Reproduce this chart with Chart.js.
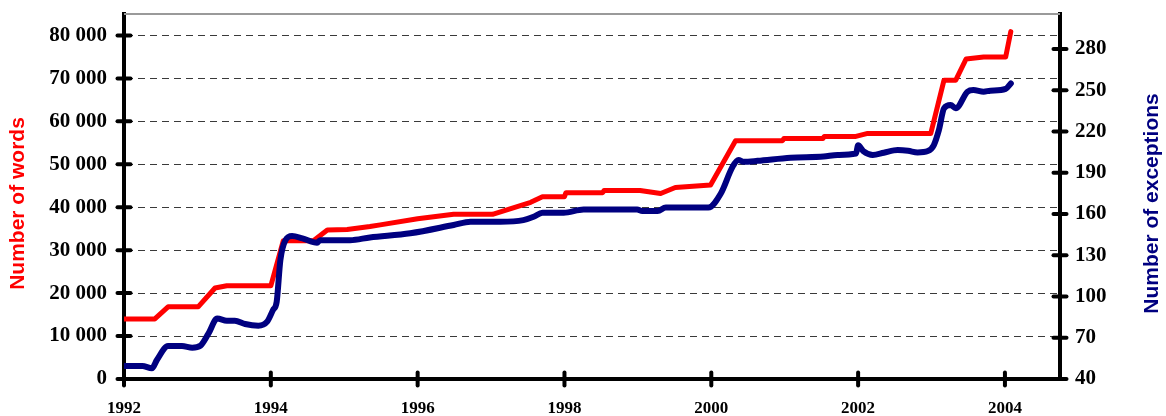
<!DOCTYPE html>
<html>
<head>
<meta charset="utf-8">
<script src="https://cdn.jsdelivr.net/npm/chart.js@4.4.1/dist/chart.umd.min.js"></script>
<style>
  html, body { margin: 0; padding: 0; background: #fff; }
  #wrap { width: 1166px; height: 416px; }
</style>
</head>
<body>
<div id="wrap"><canvas id="c" width="1166" height="416"></canvas></div>
<script>
// ---- Data ----
const yearTicks = [1992, 1994, 1996, 1998, 2000, 2002, 2004];
const wordTicks = [0, 10000, 20000, 30000, 40000, 50000, 60000, 70000, 80000];
const exceptionTicks = [40, 70, 100, 130, 160, 190, 220, 250, 280];

const wordYears = [1992.0, 1992.42, 1992.6, 1993.01, 1993.24, 1993.4, 1994.0, 1994.17, 1994.58, 1994.77,
  1995.04, 1995.35, 1995.49, 1996.0, 1996.49, 1997.02, 1997.54, 1997.70, 1998.0, 1998.02,
  1998.52, 1998.54, 1999.03, 1999.31, 1999.51, 1999.99, 2000.33, 2000.97, 2000.99, 2001.52,
  2001.54, 2001.97, 2002.13, 2002.99, 2003.17, 2003.33, 2003.47, 2003.71, 2004.01, 2004.08];
const wordValues = [14000, 14000, 16800, 16800, 21200, 21700, 21700, 32200, 32200, 34700,
  34800, 35500, 35900, 37300, 38350, 38350, 41150, 42450, 42450, 43400,
  43400, 43900, 43900, 43200, 44600, 45200, 55500, 55500, 56000, 56000,
  56500, 56500, 57200, 57200, 69600, 69600, 74500, 75000, 75000, 80900];

const exceptionYears = [1992.0, 1992.25, 1992.38, 1992.45, 1992.6, 1992.79, 1992.93, 1993.04, 1993.15, 1993.27,
  1993.40, 1993.51, 1993.65, 1993.83, 1993.95, 1994.03, 1994.08, 1994.13, 1994.2, 1994.29,
  1994.43, 1994.63, 1994.67, 1995.08, 1995.35, 1995.9, 1996.49, 1996.72, 1997.13, 1997.44,
  1997.58, 1997.7, 1997.99, 1998.26, 1998.99, 1999.06, 1999.27, 1999.38, 1999.96, 2000.13,
  2000.29, 2000.37, 2000.44, 2000.63, 2001.08, 2001.53, 2001.72, 2001.97, 2002.0, 2002.07,
  2002.2, 2002.35, 2002.54, 2002.68, 2002.81, 2002.95, 2003.03, 2003.1, 2003.17, 2003.26,
  2003.33, 2003.49, 2003.57, 2003.71, 2003.8, 2004.01, 2004.08];
const exceptionValues = [49.5, 49.5, 47.8, 54, 64, 64, 62.8, 64.2, 73, 84,
  82.4, 82.4, 80, 78.8, 81.7, 90.2, 96.2, 126.5, 141, 144,
  142.3, 139.1, 141, 141, 143, 146, 152, 154.4, 154.4, 155.6,
  158, 161, 161, 163.3, 163.3, 162.2, 162.2, 164.8, 164.8, 175,
  194.4, 199.3, 198, 198.7, 201, 201.8, 203, 204, 210, 205.8,
  203, 204.6, 206.5, 206, 204.8, 205.8, 210, 221, 236.9, 239.3,
  236.9, 249, 250.2, 249, 249.7, 251, 255];

const wordTitle = 'Number of words';
const exceptionTitle = 'Number of exceptions';

// ---- helpers ----
const pairs = (xs, ys) => xs.map((x, i) => ({ x: x, y: ys[i] }));
const spaced = v => String(v).replace(/\B(?=(\d{3})+(?!\d))/g, ' ');
const serifBold = size => ({ family: '"Liberation Serif", "Times New Roman", serif', size: size, weight: 'bold' });

const decor = {
  id: 'decor',
  afterDraw(chart) {
    const ctx = chart.ctx;
    const a = chart.chartArea;
    ctx.save();
    // top frame line
    ctx.strokeStyle = '#9a9a9a';
    ctx.lineWidth = 2;
    ctx.beginPath();
    ctx.moveTo(a.left, a.top);
    ctx.lineTo(a.right, a.top);
    ctx.stroke();
    // crossing tick marks
    ctx.strokeStyle = '#000';
    ctx.lineWidth = 4;
    ctx.lineCap = 'round';
    const L = 6.5;
    const sx = chart.scales.x, sy = chart.scales.y, sy2 = chart.scales.y2;
    sx.ticks.forEach(t => {
      const px = sx.getPixelForValue(t.value);
      ctx.beginPath(); ctx.moveTo(px, a.bottom - L); ctx.lineTo(px, a.bottom + L); ctx.stroke();
    });
    sy.ticks.forEach(t => {
      const py = sy.getPixelForValue(t.value);
      ctx.beginPath(); ctx.moveTo(a.left - L, py); ctx.lineTo(a.left + L, py); ctx.stroke();
    });
    sy2.ticks.forEach(t => {
      const py = sy2.getPixelForValue(t.value);
      ctx.beginPath(); ctx.moveTo(a.right - L, py); ctx.lineTo(a.right + L, py); ctx.stroke();
    });
    // axis titles (both read bottom-to-top)
    ctx.font = 'bold 21px "Liberation Sans", Arial, sans-serif';
    ctx.textAlign = 'center';
    ctx.textBaseline = 'middle';
    const cy = (a.top + a.bottom) / 2 + 7;
    ctx.fillStyle = '#ff0000';
    ctx.save(); ctx.translate(a.left - 106, cy); ctx.rotate(-Math.PI / 2); ctx.fillText(wordTitle, 0, 0); ctx.restore();
    ctx.fillStyle = '#000080';
    ctx.save(); ctx.translate(a.right + 92, cy); ctx.rotate(-Math.PI / 2); ctx.fillText(exceptionTitle, 0, 0); ctx.restore();
    ctx.restore();
  }
};

const fitY = w => s => { s.width = w; s.paddingTop = 0; s.paddingBottom = 0; };

new Chart(document.getElementById('c'), {
  type: 'line',
  data: {
    datasets: [
      {
        label: exceptionTitle,
        data: pairs(exceptionYears, exceptionValues),
        yAxisID: 'y2',
        borderColor: '#000080',
        borderWidth: 6,
        cubicInterpolationMode: 'monotone',
        borderCapStyle: 'round',
        borderJoinStyle: 'round',
        pointRadius: 0,
        order: 0
      },
      {
        label: wordTitle,
        data: pairs(wordYears, wordValues),
        yAxisID: 'y',
        borderColor: '#ff0000',
        borderWidth: 5,
        tension: 0,
        borderCapStyle: 'round',
        borderJoinStyle: 'round',
        pointRadius: 0,
        order: 1
      }
    ]
  },
  options: {
    responsive: false,
    animation: false,
    devicePixelRatio: 1,
    layout: { padding: { top: 14, left: 0, right: 0, bottom: 0 } },
    plugins: { legend: { display: false }, tooltip: { enabled: false } },
    scales: {
      x: {
        type: 'linear',
        min: 1992,
        max: 2004.75,
        afterBuildTicks: s => { s.ticks = yearTicks.map(v => ({ value: v })); },
        afterFit: s => { s.height = 37; s.paddingLeft = 0; s.paddingRight = 0; },
        ticks: { font: serifBold(17), color: '#000', padding: 19, maxRotation: 0, autoSkip: false, callback: v => String(v) },
        grid: { drawOnChartArea: false, drawTicks: false },
        border: { display: true, color: '#000', width: 4 }
      },
      y: {
        position: 'left',
        min: 0,
        max: 85000,
        afterBuildTicks: s => { s.ticks = wordTicks.map(v => ({ value: v })); },
        afterFit: fitY(124),
        ticks: { font: serifBold(21), color: '#000', padding: 17, callback: v => spaced(v) },
        grid: { color: '#3a3a3a', lineWidth: 1, drawTicks: false },
        border: { display: true, color: '#000', width: 4, dash: [7, 5] }
      },
      y2: {
        position: 'right',
        min: 40,
        max: 305.5,
        afterBuildTicks: s => { s.ticks = exceptionTicks.map(v => ({ value: v })); },
        afterFit: fitY(106),
        ticks: { font: serifBold(21), color: '#000', padding: 15, callback: v => String(v) },
        grid: { drawOnChartArea: false, drawTicks: false },
        border: { display: true, color: '#000', width: 4 }
      }
    }
  },
  plugins: [decor]
});
</script>
</body>
</html>
